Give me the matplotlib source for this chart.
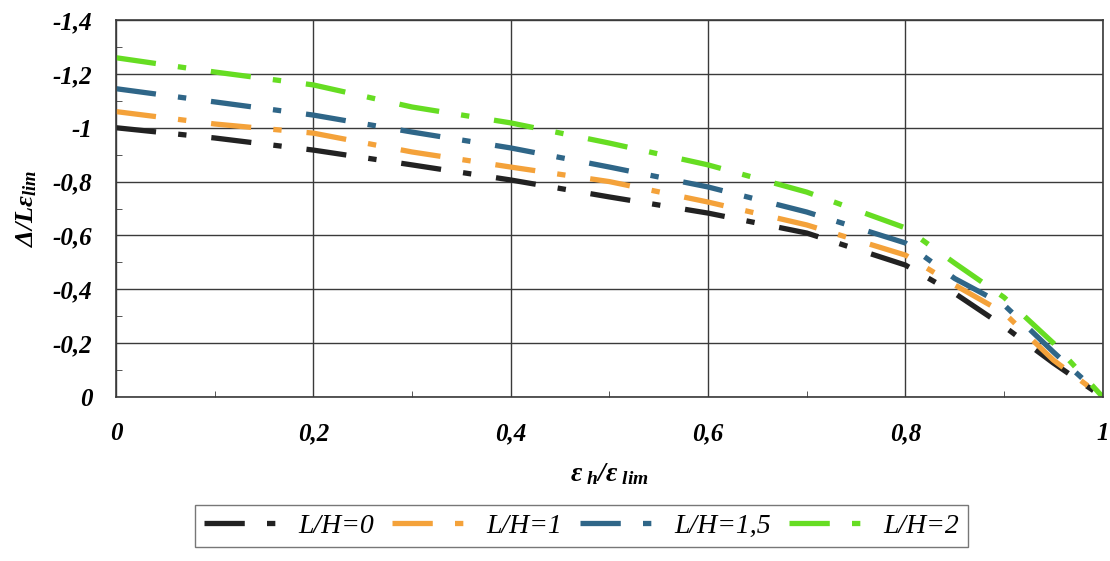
import matplotlib
matplotlib.use("Agg")
import matplotlib.pyplot as plt
from matplotlib.ticker import MultipleLocator, FuncFormatter

plt.rcParams["font.family"] = ["Liberation Serif", "DejaVu Serif"]
plt.rcParams["font.style"] = "italic"
plt.rcParams["font.weight"] = "bold"
plt.rcParams["mathtext.fontset"] = "custom"
plt.rcParams["mathtext.it"] = "Liberation Serif:italic:bold"
plt.rcParams["mathtext.rm"] = "Liberation Serif:italic:bold"
plt.rcParams["mathtext.bf"] = "Liberation Serif:italic:bold"
plt.rcParams["lines.scale_dashes"] = False

# strain ratio eps_h / eps_lim
x_vals = [0.0, 0.1, 0.2, 0.3, 0.4, 0.5, 0.6, 0.7, 0.8, 0.85, 0.9, 0.95, 1.0]

lh0  = [-1.00, -0.962, -0.917, -0.862, -0.806, -0.743, -0.683, -0.609, -0.490, -0.385, -0.262, -0.126, 0.0]
lh1  = [-1.06, -1.014, -0.980, -0.910, -0.854, -0.800, -0.724, -0.639, -0.527, -0.416, -0.312, -0.137, 0.0]
lh15 = [-1.145, -1.096, -1.047, -0.984, -0.925, -0.854, -0.780, -0.687, -0.572, -0.440, -0.342, -0.167, 0.0]
lh2  = [-1.26, -1.207, -1.159, -1.077, -1.018, -0.943, -0.862, -0.761, -0.628, -0.497, -0.370, -0.200, 0.0]

labels = ["L/H=0", "L/H=1", "L/H=1,5", "L/H=2"]
colors = ["#222222", "#f4a23a", "#2f6688", "#66dd22"]
series = [lh0, lh1, lh15, lh2]

fig = plt.figure(figsize=(11.10, 5.61), dpi=100)
ax = fig.add_axes([0.1045, 0.2923, 0.889, 0.672])

dash = (29, 16, 6, 18)
for ys, c, lab in zip(series, colors, labels):
    ax.plot(x_vals, ys, color=c, linewidth=3.8, dashes=dash,
            dash_capstyle="butt", label=lab)

ax.set_xlim(0, 1)
ax.set_ylim(0, -1.4)
ax.xaxis.set_major_locator(MultipleLocator(0.2))
ax.yaxis.set_major_locator(MultipleLocator(0.2))
ax.xaxis.set_minor_locator(MultipleLocator(0.1))
ax.yaxis.set_minor_locator(MultipleLocator(0.1))

def fmt(v, _pos):
    v = round(v, 1)
    if v == 0:
        return "0"
    if v == int(v):
        return str(int(v))
    return ("%.1f" % v).replace(".", ",")

ax.xaxis.set_major_formatter(FuncFormatter(fmt))
ax.yaxis.set_major_formatter(FuncFormatter(fmt))

ax.grid(True, which="major", color="#3a3a3a", linewidth=1.0)
ax.tick_params(which="major", length=0, labelsize=18)
ax.tick_params(axis="x", which="major", pad=18)
ax.tick_params(axis="y", which="major", pad=17)
ax.tick_params(which="minor", direction="in", length=4, color="#3a3a3a")
for sp in ax.spines.values():
    sp.set_color("#3a3a3a")
    sp.set_linewidth(1.2)

ax.set_xlabel(r"$\varepsilon_{\ h}/\varepsilon_{\ lim}$", fontsize=20, labelpad=12)
ax.set_ylabel(r"$\mathit{\Delta}/L\varepsilon_{lim}$", fontsize=19, labelpad=10)

leg = fig.legend(loc="lower center", bbox_to_anchor=(0.524, 0.0), ncol=4,
                 frameon=True, fancybox=False, edgecolor="#555555",
                 handlelength=2.6, columnspacing=0.65, handletextpad=0.8,
                 borderpad=0.3,
                 prop={"family": "Liberation Serif", "style": "italic",
                       "weight": "normal", "size": 20})
leg.get_frame().set_linewidth(1.0)

fig.savefig("out.png", dpi=100)
